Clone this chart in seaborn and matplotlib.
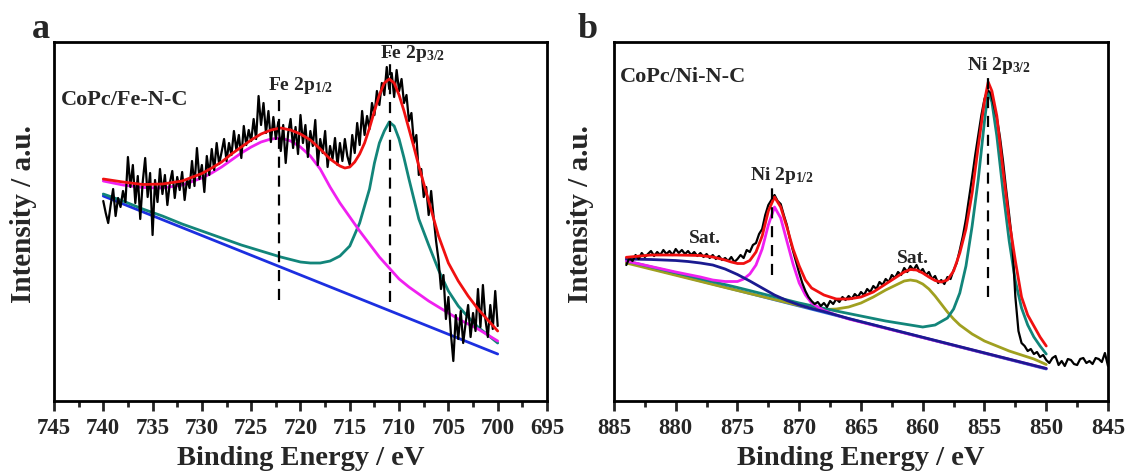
"""XPS Fe 2p / Ni 2p spectra of CoPc/Fe-N-C and CoPc/Ni-N-C with peak fits."""
import numpy as np
import matplotlib
matplotlib.use("Agg")
import matplotlib.pyplot as plt
import seaborn as sns
from matplotlib.ticker import MultipleLocator

# ---------------- panel a : Fe 2p ----------------
# measured spectrum, 740 -> 700 eV in 0.25 eV steps
energy_a = np.linspace(740, 700, 161)
counts_a = [
    200, 188, 178, 196,  212, 185, 203, 194,  210, 199, 244, 214,
    236, 198, 225, 182,  219, 243, 204, 228,  166, 221, 199, 232,
    207, 226, 196, 218,  230, 203, 224, 211,  229, 201, 222, 213,
    240, 215, 253, 222,  236, 209, 245, 226,  252, 231, 258, 237,
    249, 262, 240, 258,  246, 270, 251, 266,  243, 275, 256, 271,
    260, 282, 262, 305,  276, 298, 268, 290,  259, 284, 262, 279,
    250, 276, 238, 268,  282, 253, 274, 247,  286, 258, 276, 244,
    270, 255, 281, 236,  262, 248, 270, 234,  255, 242, 263, 236,
    258, 240, 262, 245,  236, 266, 248, 278,  256, 290, 266, 285,
    272, 298, 286, 310,  296, 318, 306, 334,  312, 328, 304, 331,
    310, 322, 298, 306,  280, 288, 258, 266,  226, 232, 204, 214,
    186, 210, 184, 160,  141, 112, 126, 82,   104, 68, 40, 86,
    62, 90, 58, 78,      96, 64, 88, 70,      112, 74, 116, 82,
    64, 96, 72, 110,     75,
]

bg_a_x = [740, 700]
bg_a_y = [205, 47]

fe32_x = [740, 738, 736, 734, 732, 730, 728, 726, 724, 722, 720, 719, 718, 717,
          716, 715, 714, 713, 712.5, 712, 711.5, 711, 710.5, 710, 709.5, 709,
          708, 707, 706, 705, 704, 703, 702, 701, 700]
fe32_y = [207, 200, 192, 185, 177, 170, 163, 156, 150, 144, 139, 138, 138, 140,
          145, 155, 178, 212, 238, 258, 270, 279, 275, 262, 243, 222,
          182, 156, 131, 110, 95, 84, 74, 66, 58]

fe12_x = [740, 738, 736, 734, 732, 730, 729, 728, 727, 726, 725, 724, 723, 722,
          721, 720, 719, 718, 717, 716, 715, 714, 713, 712, 711, 710, 709, 708,
          707, 706, 705, 704, 703, 702, 701, 700]
fe12_y = [220, 216, 213.5, 213, 216, 223, 228, 234, 241, 248, 254, 259, 262, 263,
          260, 254, 245, 232, 214, 198, 184, 170, 157, 144, 133, 122, 114, 107,
          100, 94, 88, 82, 77, 72, 66, 60]

env_a_x = [740, 738, 736, 734, 732, 730, 729, 728, 727, 726, 725, 724, 723, 722,
           721, 720, 719, 718, 717, 716, 715.5, 715, 714.5, 714, 713.5, 713,
           712.5, 712, 711.5, 711, 710.5, 710, 709.5, 709, 708.5, 708, 707, 706,
           705, 704, 703, 702, 701, 700]
env_a_y = [222, 219, 216.5, 217, 220, 227.5, 233, 239, 247, 254, 261, 267, 271, 273,
           271, 267, 261, 252, 242, 235, 233, 234, 239, 247, 258, 273,
           290, 306, 318, 322, 318, 306, 290, 272, 254, 235, 200, 165,
           138, 120, 105, 92, 81, 70]

peaks_a = [722.2, 710.9]
peak_top_a = [306, 346]
peak_bot_a = [101, 99]
peak_names_a = [r"Fe 2p$_{1/2}$", r"Fe 2p$_{3/2}$"]
label_y_a = [311, 343]

# ---------------- panel b : Ni 2p ----------------
energy_b = np.linspace(884, 845, 157)
counts_b = [
    136, 143, 140, 146,  142, 148, 144, 147,  150, 145, 149, 146,
    151, 147, 150, 146,  152, 148, 151, 147,  150, 146, 149, 145,
    148, 144, 147, 143,  146, 142, 145, 141,  143, 140, 144, 139,
    142, 146, 143, 151,  149, 156, 158, 167,  172, 186, 196, 201,
    206, 200, 197, 186,  176, 162, 150, 139,  128, 118, 110, 104,
    100, 97, 99, 95,     98, 94, 100, 97,     102, 99, 104, 101,
    105, 102, 107, 104,  109, 106, 112, 109,  115, 112, 119, 116,
    122, 119, 126, 123,  129, 126, 133, 129,  135, 131, 136, 129,
    132, 126, 129, 122,  125, 118, 121, 117,  124, 122, 131, 138,
    151, 165, 182, 203,  224, 246, 266, 286,  302, 311, 308, 296,
    283, 264, 240, 212,  186, 158, 104, 70,   58, 55, 50, 52,
    47, 49, 44, 46,      41, 38, 43, 45,      36, 40, 35, 42,
    41, 37, 36, 42,      43, 38, 40, 37,      43, 42, 39, 48,
    35,
]

bg_b_x = [884, 850]
bg_b_y = [139, 32]

sat1_x = [884, 882, 880, 879, 878, 877, 876, 875, 874, 873, 872, 871, 870, 869,
          868, 867, 866, 850]
sat1_y = [142, 141.5, 140.5, 139.5, 138, 136, 132, 126.5, 120, 113, 106, 100.5,
          96, 92.5, 89.5, 86, 82.5, 32.5]

ni12_x = [884, 882, 880, 878, 877, 876, 875, 874.5, 874, 873.5, 873, 872.5, 872,
          871.5, 871, 870.5, 870, 869.5, 869, 868, 867, 866, 850]
ni12_y = [140, 134.5, 129, 124, 121, 119.5, 119.5, 122, 127, 136, 152, 176, 194,
          183, 160, 137, 118, 106, 98, 90.5, 86, 82, 32.5]

sat2_x = [884, 876, 872, 870, 869, 868, 867, 866, 865, 864, 863, 862, 861.5, 861,
          860.5, 860, 859.5, 859, 858.5, 858, 857.5, 857, 856, 855, 854, 853,
          852, 851, 850]
sat2_y = [138, 113.5, 101.5, 95.5, 93, 91.5, 92, 94, 98, 104, 111, 117, 120, 121,
          120, 117, 112, 105, 97, 89, 82, 76, 67, 60, 55, 50,
          46, 42, 36.5]

ni32_x = [884, 875, 870, 867, 865, 863, 861, 860, 859, 858, 857.5, 857, 856.5,
          856, 855.5, 855, 854.7, 854.4, 854, 853.5, 853, 852.5, 852, 851.5,
          851, 850.5, 850]
ni32_y = [140, 113.5, 98, 90, 85, 80, 76, 74, 76, 83, 92, 108, 135,
          175, 222, 280, 309, 299, 265, 210, 160, 120, 93, 76,
          64, 55, 47]

env_b_x = [884, 882, 880, 878, 877, 876, 875.5, 875, 874.5, 874, 873.5, 873,
           872.5, 872, 871.5, 871, 870.5, 870, 869.5, 869, 868, 867, 866, 865,
           864, 863, 862, 861.5, 861, 860.5, 860, 859.5, 859, 858.5, 858, 857.5,
           857, 856.5, 856, 855.5, 855, 854.7, 854.4, 854, 853.5, 853, 852.5,
           852, 851.5, 851, 850.5, 850]
env_b_y = [143.7, 146, 146, 145.5, 144, 141, 139, 137.5, 137.5, 140.5, 149, 165,
           190, 204, 194, 174, 152, 135, 121, 113, 106, 102, 102, 104,
           109, 117, 125, 129, 131.5, 131, 128, 124, 120.5, 119, 121, 130,
           148, 172, 208, 255, 300, 319, 310, 285, 231, 180, 140,
           104, 86, 75, 64, 55]

peaks_b = [872.2, 854.7]
peak_top_b = [219, 329]
peak_bot_b = [126, 104]
peak_names_b = [r"Ni 2p$_{1/2}$", r"Ni 2p$_{3/2}$"]
label_y_b = [221, 331]
sat_pos = [877.6, 860.8]
sat_y = [158, 138]


def line(ax, x, y, color, lw, z):
    sns.lineplot(x=x, y=y, ax=ax, color=color, linewidth=lw,
                 estimator=None, sort=False, zorder=z)


def style_axis(ax, xlim, ylab_x):
    ax.set_xlim(*xlim)
    ax.set_ylim(0, 359)
    ax.set_yticks([])
    ax.xaxis.set_major_locator(MultipleLocator(5))
    ax.xaxis.set_minor_locator(MultipleLocator(2.5))
    ax.tick_params(axis="x", which="major", direction="out", length=7,
                   width=2, labelsize=16.5, pad=5, top=False)
    ax.tick_params(axis="x", which="minor", direction="out", length=4,
                   width=2, top=False)
    for lab in ax.get_xticklabels():
        lab.set_fontweight("bold")
    for sp in ax.spines.values():
        sp.set_linewidth(2)
        sp.set_color("black")
        sp.set_visible(True)
    ax.set_xlabel("Binding Energy / eV", fontsize=20.5, fontweight="bold",
                  labelpad=5)
    ax.set_ylabel("Intensity / a.u.", fontsize=21, fontweight="bold")
    ax.yaxis.set_label_coords(ylab_x, 0.52)


sns.set_theme(style="ticks")
plt.rcParams["font.family"] = ["Liberation Serif", "DejaVu Serif"]
plt.rcParams["font.weight"] = "bold"
plt.rcParams["axes.labelweight"] = "bold"
plt.rcParams["mathtext.default"] = "regular"

fig = plt.figure(figsize=(11.29, 4.72), dpi=100)
ax_a = fig.add_axes([0.0478, 0.1504, 0.4367, 0.7606])
ax_b = fig.add_axes([0.5438, 0.1504, 0.4376, 0.7606])

# panel a
line(ax_a, bg_a_x, bg_a_y, "#1c2fe0", 2, 2)
line(ax_a, fe32_x, fe32_y, "#12857a", 2, 3)
line(ax_a, fe12_x, fe12_y, "#f020f0", 2, 3)
line(ax_a, energy_a, counts_a, "black", 1.6, 4)
line(ax_a, env_a_x, env_a_y, "#f01010", 2, 5)
ax_a.vlines(peaks_a, peak_bot_a, peak_top_a, colors="black",
            linestyles=(0, (5, 3.5)), linewidth=1.6, zorder=6)
for pos, name, ty in zip(peaks_a, peak_names_a, label_y_a):
    ax_a.text(pos + 1.05, ty, name, fontsize=14, ha="left", va="baseline")
ax_a.text(744.3, 296, "CoPc/Fe-N-C", fontsize=16, ha="left", va="baseline")
style_axis(ax_a, (745, 695), -0.035)

# panel b
line(ax_b, bg_b_x, bg_b_y, "#2f6fd8", 2, 2)
line(ax_b, sat2_x, sat2_y, "#a0a020", 2, 3)
line(ax_b, ni32_x, ni32_y, "#12857a", 2, 3)
line(ax_b, ni12_x, ni12_y, "#f020f0", 2, 3)
line(ax_b, sat1_x, sat1_y, "#1a1a90", 2, 3)
line(ax_b, energy_b, counts_b, "black", 1.6, 4)
line(ax_b, env_b_x, env_b_y, "#f01010", 2, 5)
ax_b.vlines(peaks_b, peak_bot_b, peak_top_b, colors="black",
            linestyles=(0, (5, 3.5)), linewidth=1.6, zorder=6)
for pos, name, ty in zip(peaks_b, peak_names_b, label_y_b):
    ax_b.text(pos + 1.75, ty, name, fontsize=14, ha="left", va="baseline")
for pos, ty in zip(sat_pos, sat_y):
    ax_b.text(pos, ty, "Sat.", fontsize=14, ha="center", va="baseline")
ax_b.text(884.5, 319, "CoPc/Ni-N-C", fontsize=16, ha="left", va="baseline")
style_axis(ax_b, (885, 845), -0.04)

fig.text(0.0283, 0.9195, "a", fontsize=26, ha="left", va="baseline")
fig.text(0.512, 0.9195, "b", fontsize=26, ha="left", va="baseline")

fig.savefig("out.png", dpi=100)
